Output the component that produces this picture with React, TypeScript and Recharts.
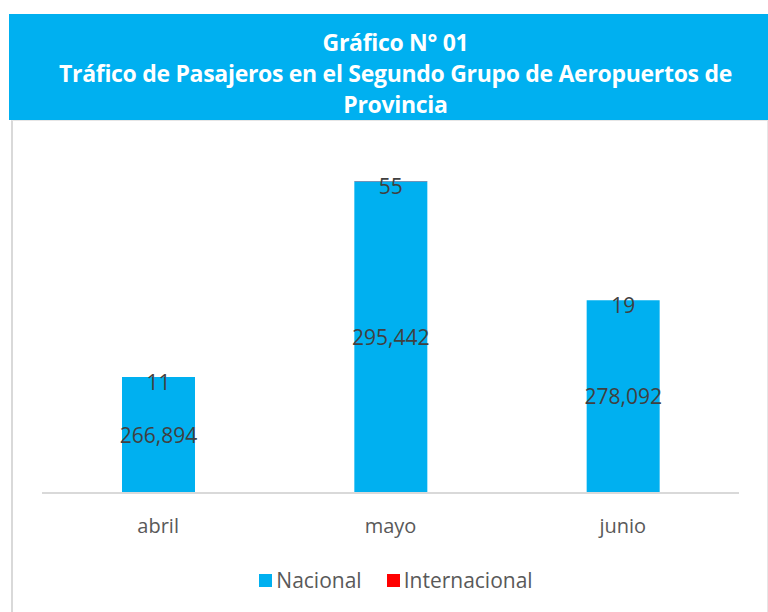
import { BarChart, Bar, XAxis, YAxis, Legend, LabelList } from 'recharts';

const months = ['abril', 'mayo', 'junio'];
const nacional = [266894, 295442, 278092];
const internacional = [11, 55, 19];
const seriesOrder = ['Nacional', 'Internacional'];

const data = months.map((m, i) => ({
  name: m,
  Nacional: nacional[i],
  Internacional: internacional[i],
}));

const FONT = '"Open Sans", "Noto Sans", sans-serif';

const fmt = (v: any) => Number(v).toLocaleString('en-US');

function LegendBox(props: any) {
  const items = [...(props.payload || [])].sort(
    (a: any, b: any) => seriesOrder.indexOf(a.value) - seriesOrder.indexOf(b.value)
  );
  return (
    <div style={{ display: 'flex', justifyContent: 'center', alignItems: 'center', paddingLeft: 24, fontFamily: FONT, fontSize: 21, color: '#595959' }}>
      {items.map((it: any, i: number) => (
        <div key={it.value} style={{ display: 'flex', alignItems: 'center', marginLeft: i ? 25 : 0 }}>
          <span style={{ width: 13, height: 13, background: it.color, display: 'inline-block', marginRight: 4 }} />
          <span>{it.value}</span>
        </div>
      ))}
    </div>
  );
}

export default function App() {
  return (
    <div style={{ position: 'absolute', left: 0, top: 0, width: 768, height: 612, background: '#fff', overflow: 'hidden' }}>
      <div
        style={{
          position: 'absolute', left: 11, top: 120, width: 754, height: 500,
          borderLeft: '2px solid #d9d9d9', borderRight: '1px solid #e6e6e6', borderTop: '1px solid #e6e6e6',
        }}
      />
      <div
        style={{
          position: 'absolute', left: 9, top: 14, width: 759, height: 106,
          background: '#00B0F0', color: '#fff', fontFamily: FONT, fontWeight: 700,
          fontSize: 23, lineHeight: '31px', textAlign: 'center', boxSizing: 'border-box',
          paddingTop: 13, paddingLeft: 14, letterSpacing: -0.3,
        }}
      >
        Gráfico N° 01
        <br />
        Tráfico de Pasajeros en el Segundo Grupo de Aeropuertos de
        <br />
        Provincia
      </div>
      <div style={{ position: 'absolute', left: 0, top: 120 }}>
        <BarChart
          width={768}
          height={492}
          data={data}
          margin={{ top: 30, right: 29, left: 42, bottom: 59 }}
        >
          <XAxis
            dataKey="name"
            axisLine={{ stroke: '#d9d9d9', strokeWidth: 2 }}
            tickLine={false}
            tickMargin={20}
            tick={{ fill: '#595959', fontSize: 20, fontFamily: FONT }}
          />
          <YAxis hide type="number" domain={[250000, 300000]} allowDataOverflow />
          <Legend
            content={<LegendBox />}
            wrapperStyle={{ top: 446, bottom: 'auto', left: 0, width: 768, height: 30 }}
          />
          <Bar dataKey="Nacional" stackId="a" fill="#00B0F0" barSize={73} isAnimationActive={false}>
            <LabelList dataKey="Nacional" position="center" formatter={fmt} fill="#404040" fontSize={21} fontFamily={FONT} />
          </Bar>
          <Bar dataKey="Internacional" stackId="a" fill="#FF0000" barSize={73} isAnimationActive={false}>
            <LabelList dataKey="Internacional" position="insideTop" offset={-2} fill="#404040" fontSize={21} fontFamily={FONT} />
          </Bar>
        </BarChart>
      </div>
    </div>
  );
}
